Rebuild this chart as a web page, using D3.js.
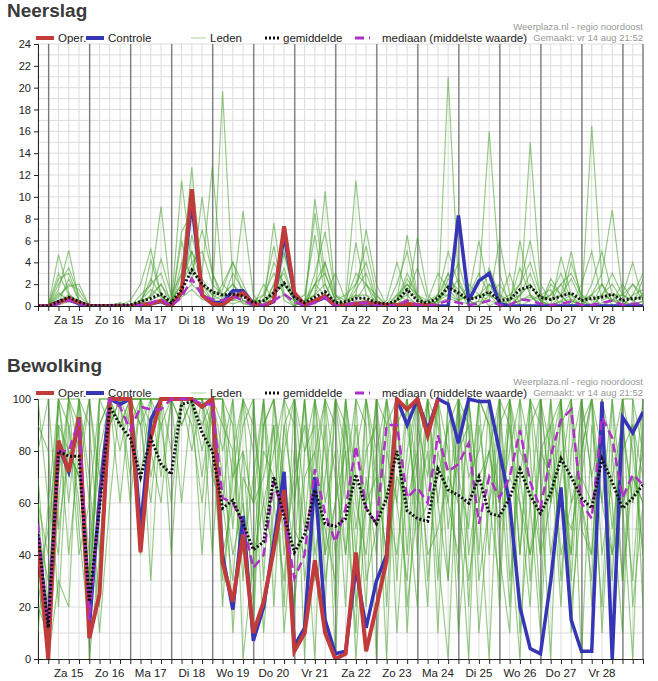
<!DOCTYPE html>
<html>
<head>
<meta charset="utf-8">
<script src="https://cdn.jsdelivr.net/npm/d3@7"></script>
<style>
    body { margin: 0; background: #fff; font-family: Arial, "Liberation Sans", sans-serif; }
    svg text { font-family: Arial, "Liberation Sans", sans-serif; }
</style>
</head>
<body>
<svg id="chart" width="658" height="681"></svg>
<script>
// 6-hourly steps, starting vr 14 aug 18:00
let dayLabels = ["Za 15","Zo 16","Ma 17","Di 18","Wo 19","Do 20","Vr 21","Za 22","Zo 23","Ma 24","Di 25","Wo 26","Do 27","Vr 28"];

// ---- Neerslag (mm) ----
let rainOper = [0,0,0.3,0.7,0.3,0,0,0,0,0,0.1,0.2,0.5,0,1.3,10.7,1.0,0.2,0.1,0.8,1.2,0.2,0,0.5,7.3,1.2,0.1,0.5,0.9,0,
    0.1,0.2,0.3,0.2,0.1,0.1,0.2,0.1,0.1,0];
let rainControle = [0,0,0.4,0.6,0.2,0,0,0,0,0,0.1,0.2,0.4,0,1.2,9.5,1.0,0.3,0.3,1.4,1.4,0.2,0,0.4,6.5,1.0,0.1,0.4,0.8,0,
    0.1,0.1,0.2,0.1,0,0,0.1,0,0,0,0,8.3,0.5,2.3,3.0,0.2,0,0,0,0,0,0,0,0,0,0,0,0,0,0];
let rainMean = [0,0,0.4,0.8,0.4,0.05,0.05,0.05,0.1,0.1,0.4,0.7,1.1,0.3,1.5,3.3,2.0,1.3,1.0,1.1,0.9,0.3,0.5,1.2,2.1,0.8,0.3,0.8,1.3,0.3,
    0.4,0.7,0.7,0.3,0.2,0.5,1.5,0.5,0.3,0.7,1.7,1.2,0.6,0.8,1.3,0.5,0.6,1.5,1.8,0.8,0.6,0.9,1.2,0.5,0.7,0.8,1.1,0.5,0.7,0.7];
let rainMedian = [0,0,0.2,0.5,0.2,0,0,0,0,0,0.1,0.3,0.6,0,0.8,2.5,1.0,0.6,0.5,0.9,0.5,0.1,0.1,0.5,1.1,0.4,0,0.3,0.8,0,
    0.1,0.3,0.3,0.1,0,0.1,0.5,0.1,0,0.2,0.5,0.3,0.1,0.2,0.5,0.1,0.1,0.6,0.5,0.2,0.1,0.2,0.4,0.1,0.1,0.3,0.5,0.1,0.2,0.2];
let rainLeden = [
    [0,0,4.7,1.2,0,0,0,0,0,0,0.5,1.5,0.8,0,1.2,6.5,2.5,1,0.5,0.2,0.5,0,0,2,5,1,0,8.5,2,0,0.5,1,0.5,0,0,0.5,2,0.8,0,0.5,1.5,4,0.5,0,2,0.5,0,0.5,1,0,2.5,1,0,0.5,1,0,0.5,2,0.5,0],
    [0,0,1.5,5.1,0.5,0,0,0,0.3,0,0,4.2,1,0,6,2,10,3,0.5,1.5,0.2,0,1,5.5,0.5,0,0.5,1,10.5,1,0,2,4,0.5,0,1,0.5,6.3,1,0,21,2,0.5,1,0,0.5,3,0,0.5,1,1.5,0,4,1,0,2,0.5,0,1,3],
    [0,0,2.5,3,0.5,0,0,0,0,0.5,2,5.2,1,0,11.5,4,1.5,0.5,19.7,2,0.5,0,0,1,3.5,0.5,0,9.8,3,0.5,0,1,7,2,0,0.5,6.5,1,0,0.5,3,1,0.5,2,16,3,0,1,2,0.5,0,4.5,1,0,16.5,2,0,0.5,2,0.5],
    [0,0,0.8,2,1.5,0,0,0,0,0,1,2,9.1,0.5,2,5,3,12.8,2,1,8.7,1,0,7.6,1,0,0.5,2,1,3,0.5,11.5,2,0,0.5,4,1,0,0.5,3,1.5,0.5,2,1,0.5,6,1,0,15,2,0.5,1,5,0.5,1,3,8.8,1,0.5,1],
    [0,0,3,1,0,0,0,0,0,0,0.5,0.8,2,0,6.8,8.5,1,0.5,2,4,1,0,2,0.5,4.8,1,0,3,6.8,1,0,0.5,2,0.5,0,0.5,2.5,1,0,1,5,2,0.5,1,2,1,0.5,3.5,1,0,2,1,0,2,5,0.5,1,1,4,0.5],
    [0,0,1,1.8,2,0,0,0,0,0,0,1,4.3,1,3,12.7,2,0.5,1,2,0.5,0.5,0,1.5,2,0.5,0,1,4,0.5,0,5.8,1,0,0,2,5,0.5,0,1,3,0.5,1,6,1,0,0.5,2,4,1,0,1,2.5,0.5,0,1,2,0.5,0,2.5],
    [0,0,2,3.5,1,0,0,0,0,0,0.3,2.5,1,0,4,3,7,3,1,0.5,1,0.5,1,3,1,0.5,1,6.5,1,0.5,1,2,5.5,1,0,0.5,1,3.5,0.5,0,2.5,1.5,0,0.5,3.5,1,0,6,1,0.5,1,3,0.5,0,2,5,1,0,1,1.5],
    [0,0,0.5,1,0.5,0,0,0,0,0,0,0.5,1,0,3,5,2,1,1.5,4,2,0,0.5,1,2,0.5,0,2,3,0.5,0,1,1,0.5,0,0,1.5,0.5,0,0.5,2,1,0.5,1,1,0.5,0,1,3,0.5,0,0.5,1,0.5,0,1,0.5,0.5,0,0.5],
    [0,0,1.2,0.5,0.3,0,0,0,0,0,0.2,1,2,0.5,2,4,5,2,1,2,1,0.5,0.5,4,2,1,0,2,4,1,0.5,3,2,1,0,1,2,1,0.5,1,1,0.5,1,3,1,0.5,1,2,6,1,0.5,2,3,1,0.5,1,3,1,0.5,1],
    [0,0,0.3,2.5,0.5,0,0,0,0,0,0.5,2,3,0.2,1,2,1,0.5,0.5,3,1.5,0,0,2,3,0.5,0.5,1,2,0,0,1.5,3,0.5,0,0.5,3,1,0,0.5,1,2.5,0.5,0,1,2,0.5,1,2,0.5,1,2,0.5,0,1,2,0.5,1,2,1],
    [0,0,0.1,0.4,0.2,0,0,0,0,0,0,0.3,0.5,0,0.8,1.5,0.6,0.3,0.4,0.6,0.3,0,0.1,0.6,1,0.2,0,0.4,0.8,0.1,0,0.4,0.5,0.1,0,0.2,0.6,0.2,0,0.3,0.7,0.4,0.2,0.4,0.5,0.2,0.1,0.5,0.8,0.3,0.1,0.4,0.6,0.2,0.1,0.3,0.5,0.2,0.2,0.4]
];

// ---- Bewolking (%) ----
let cloudOper = [45,0,84,72,93,8,25,100,100,100,41,85,100,100,100,100,97,100,37,22,48,10,22,42,65,3,10,38,10,0,
    2,41,3,20,38,100,96,100,86,100];
let cloudControle = [47,10,82,72,92,12,62,100,98,100,50,92,100,100,100,100,97,100,40,19,55,7,20,45,72,5,12,70,15,2,
    3,35,12,30,40,100,90,100,88,100,98,83,100,99,99,80,60,20,4,2,30,66,15,3,3,99,0,93,87,95];
let cloudMean = [48,12,80,78,78,22,58,97,90,85,70,85,75,71,98,99,87,80,58,61,52,42,45,70,55,41,48,65,52,51,
    54,71,58,52,62,80,57,54,53,73,65,63,60,70,56,55,62,73,63,56,64,77,70,62,58,77,68,58,62,67];
let cloudMedian = [52,12,80,80,92,15,60,100,97,88,97,96,96,100,100,100,98,98,62,60,52,35,40,68,55,31,40,73,56,45,
    58,82,58,52,90,90,62,66,60,86,72,75,83,52,70,62,70,88,68,58,78,92,96,60,54,93,85,62,71,67];
let cloudLeden = [
    [70,20,100,60,100,0,40,100,80,100,100,30,100,100,60,100,100,40,100,10,70,60,100,20,90,100,0,100,40,100,60,10,100,80,0,100,40,100,90,10,100,60,0,100,90,20,100,40,100,70,0,100,30,90,100,10,80,100,20,60],
    [30,0,60,100,80,40,90,100,100,60,100,100,70,100,100,90,60,100,20,80,30,100,50,90,10,60,100,30,90,0,100,70,20,100,60,100,10,80,100,40,0,90,100,30,60,100,50,0,100,90,40,70,100,0,90,60,100,30,90,40],
    [60,40,100,90,60,20,100,100,90,100,70,100,100,80,100,100,100,70,60,100,0,40,90,100,60,20,80,100,60,80,20,100,90,0,80,60,100,70,20,100,80,30,100,60,0,90,100,10,60,100,80,20,100,60,30,100,0,90,60,100],
    [100,60,40,100,100,70,20,90,100,100,90,60,100,100,90,100,80,100,100,50,100,80,10,60,100,50,40,80,100,20,90,40,100,60,100,30,100,50,60,100,30,100,70,80,100,40,10,100,80,20,100,60,40,100,70,20,100,60,0,100],
    [20,10,90,40,80,100,60,100,100,90,100,80,60,100,100,100,90,100,80,100,60,10,100,40,80,100,60,0,100,70,40,90,60,100,20,90,100,40,100,60,90,10,60,100,40,100,90,60,20,100,60,100,10,80,100,60,40,100,100,20],
    [90,80,20,90,40,60,100,100,60,100,100,100,90,60,100,100,100,90,40,60,90,100,30,100,70,40,100,60,20,100,80,0,60,100,90,10,70,100,30,80,60,100,20,90,60,30,100,70,40,60,100,30,80,100,20,90,60,10,100,80],
    [50,30,70,100,90,30,80,100,100,100,40,90,100,100,100,100,100,100,60,30,80,60,70,90,20,100,80,90,30,60,100,60,40,80,100,60,30,90,70,100,50,80,90,40,100,60,80,100,30,80,90,40,60,80,100,40,70,90,60,80],
    [10,60,100,70,100,90,40,100,100,70,100,100,100,40,100,100,70,100,100,90,40,70,100,60,30,80,50,100,80,40,70,100,30,50,100,80,60,20,100,90,60,40,100,60,80,100,30,70,100,40,60,90,100,50,40,100,80,30,70,60],
    [80,100,50,80,70,100,70,100,90,100,100,70,90,100,100,80,100,100,90,80,100,40,60,80,100,90,30,70,100,90,40,80,100,70,40,100,90,60,80,30,100,70,50,100,90,60,100,80,70,40,90,100,60,70,100,80,30,100,80,40],
    [40,20,100,100,50,10,100,90,100,100,100,100,100,100,90,100,100,80,30,70,100,90,60,40,90,60,100,40,70,100,90,50,80,90,60,40,80,100,60,70,90,100,40,70,80,60,90,40,90,100,60,80,40,100,70,90,50,80,90,70],
    [60,0,30,20,100,60,10,60,100,100,90,100,100,100,100,100,40,100,100,70,80,20,90,100,40,70,90,60,50,30,100,20,70,40,90,100,20,60,100,60,30,100,90,10,60,80,20,90,60,10,80,100,20,60,40,100,10,70,30,90],
    [30,50,90,80,70,30,90,100,100,100,100,90,100,100,100,100,100,100,70,40,60,30,80,70,50,20,70,80,40,60,80,30,60,70,40,70,60,80,40,50,70,60,30,60,80,50,70,60,40,80,70,60,50,70,60,80,40,60,70,60]
];

let svg = d3.select("#chart");
let x0 = 38, x1 = 643;
let x = d3.scaleLinear().domain([0, 59]).range([x0, x1]);

let colOper = "#c23b3b", colCtrl = "#3535b5", colLeden = "#45a02a", colMedian = "#b02fc8";

function drawPanel(opt) {
    let g = svg.append("g");
    let y = d3.scaleLinear().domain([0, opt.max]).range([opt.bottom, opt.top]);

    g.append("text").attr("x", 7).attr("y", opt.top - 27)
        .attr("font-size", 19).attr("font-weight", "bold").attr("fill", "#3a3a3a").text(opt.title);

    // grid
    let steps = d3.range(0, 60);
    g.selectAll(".vg").data(steps).enter().append("line")
        .attr("x1", d => x(d)).attr("x2", d => x(d))
        .attr("y1", opt.top).attr("y2", opt.bottom)
        .attr("stroke", "#dcdcdc").attr("stroke-width", 1);
    g.selectAll(".hg").data(opt.grid).enter().append("line")
        .attr("x1", x0).attr("x2", x1)
        .attr("y1", d => y(d)).attr("y2", d => y(d))
        .attr("stroke", "#dcdcdc").attr("stroke-width", 1);
    let days = d3.range(0, 15).map(k => 1 + 4 * k);
    g.selectAll(".dl").data(days).enter().append("line")
        .attr("x1", d => x(d) + 0.5).attr("x2", d => x(d) + 0.5)
        .attr("y1", opt.top).attr("y2", opt.bottom)
        .attr("stroke", "#555").attr("stroke-width", 1);
    g.append("line").attr("x1", x1).attr("x2", x1).attr("y1", opt.top).attr("y2", opt.bottom)
        .attr("stroke", "#555");

    // y axis
    let ya = d3.axisLeft(y).tickValues(opt.ticks).tickSize(4).tickFormat(d3.format("d"));
    let yg = g.append("g").attr("transform", `translate(${x0},0)`).call(ya);
    yg.selectAll("text").attr("font-size", 11).attr("fill", "#222");
    yg.selectAll("line,path").attr("stroke", "#222");

    // x axis
    let xa = d3.axisBottom(x).tickValues(steps).tickSize(5).tickFormat("");
    let xg = g.append("g").attr("transform", `translate(0,${opt.bottom})`).call(xa);
    xg.selectAll("line,path").attr("stroke", "#222");
    g.selectAll(".xl").data(dayLabels).enter().append("text")
        .attr("x", (d, i) => x(3 + 4 * i)).attr("y", opt.bottom + 18)
        .attr("text-anchor", "middle").attr("font-size", 11.5).attr("fill", "#222").text(d => d);

    // series
    let clip = "clip" + opt.title;
    svg.append("clipPath").attr("id", clip).append("rect")
        .attr("x", x0).attr("y", opt.top - 2).attr("width", x1 - x0).attr("height", opt.bottom - opt.top + 2);
    let line = d3.line().x((d, i) => x(i)).y(d => y(d));
    let sg = g.append("g").attr("clip-path", `url(#${clip})`);
    sg.selectAll(".led").data(opt.leden).enter().append("path")
        .attr("d", line).attr("fill", "none").attr("stroke", colLeden)
        .attr("stroke-opacity", 0.55).attr("stroke-width", 1.2);
    sg.append("path").attr("d", line(opt.ctrl)).attr("fill", "none").attr("stroke", colCtrl).attr("stroke-width", 3.5);
    sg.append("path").attr("d", line(opt.oper)).attr("fill", "none").attr("stroke", colOper).attr("stroke-width", 4);
    sg.append("path").attr("d", line(opt.median)).attr("fill", "none").attr("stroke", colMedian)
        .attr("stroke-width", 2.5).attr("stroke-dasharray", "9,5");
    sg.append("path").attr("d", line(opt.mean)).attr("fill", "none").attr("stroke", "#111")
        .attr("stroke-width", 3).attr("stroke-dasharray", "2,2");

    // legend
    let ly = opt.top - 6;
    let lg = g.append("g");
    lg.append("line").attr("x1", 36).attr("x2", 54).attr("y1", ly).attr("y2", ly).attr("stroke", colOper).attr("stroke-width", 4);
    lg.append("text").attr("x", 58).attr("y", ly + 4).text("Oper.");
    lg.append("line").attr("x1", 86).attr("x2", 104).attr("y1", ly).attr("y2", ly).attr("stroke", colCtrl).attr("stroke-width", 4);
    lg.append("text").attr("x", 108).attr("y", ly + 4).text("Controle");
    lg.append("line").attr("x1", 191).attr("x2", 206).attr("y1", ly).attr("y2", ly).attr("stroke", "#a8d49a").attr("stroke-width", 1);
    lg.append("text").attr("x", 210).attr("y", ly + 4).text("Leden");
    lg.append("line").attr("x1", 265).attr("x2", 279).attr("y1", ly).attr("y2", ly).attr("stroke", "#111").attr("stroke-width", 3).attr("stroke-dasharray", "2,2");
    lg.append("text").attr("x", 283).attr("y", ly + 4).text("gemiddelde");
    lg.append("line").attr("x1", 355).attr("x2", 370).attr("y1", ly).attr("y2", ly).attr("stroke", colMedian).attr("stroke-width", 3).attr("stroke-dasharray", "9,5");
    lg.append("text").attr("x", 382).attr("y", ly + 4).text("mediaan (middelste waarde)");
    lg.selectAll("text").attr("font-size", 11.5).attr("fill", "#222");

    g.append("text").attr("x", 643).attr("y", opt.top - 14).attr("text-anchor", "end")
        .attr("font-size", 9.5).attr("fill", "#999").text("Weerplaza.nl - regio noordoost");
    g.append("text").attr("x", 643).attr("y", opt.top - 3).attr("text-anchor", "end")
        .attr("font-size", 9.5).attr("fill", "#999").text("Gemaakt: vr 14 aug 21:52");
}

drawPanel({title: "Neerslag", top: 44, bottom: 306, max: 24, ticks: d3.range(0, 25, 2), grid: d3.range(1, 25, 1),
    oper: rainOper, ctrl: rainControle, mean: rainMean, median: rainMedian, leden: rainLeden});
drawPanel({title: "Bewolking", top: 399, bottom: 659, max: 100, ticks: d3.range(0, 101, 20), grid: d3.range(10, 101, 10),
    oper: cloudOper, ctrl: cloudControle, mean: cloudMean, median: cloudMedian, leden: cloudLeden});
</script>
</body>
</html>
